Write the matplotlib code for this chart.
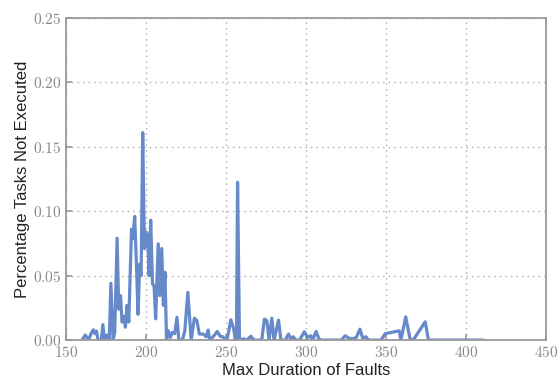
import matplotlib
matplotlib.use("Agg")
import matplotlib.pyplot as plt
from matplotlib.ticker import FuncFormatter

# duracion maxima de fallas (eje x) y porcentaje de tareas no ejecutadas (eje y)
duration = [160, 162, 164, 166, 167, 168, 169, 170, 172, 173,
            174, 175.5, 177, 178, 179.4, 180.4, 181.9, 182.9, 184, 185,
            186, 187.1, 188.1, 189.2, 190.9, 191.7, 192.9, 194, 195, 196,
            196.9, 197.9, 199, 200.2, 201, 201.9, 202.9, 204, 205, 206,
            207.6, 208.6, 209.8, 210.8, 211.8, 212.8, 213.8, 215.2, 216.4, 217.9,
            219.3, 220.5, 222.7, 224.2, 226.1, 228.2, 230.2, 231.8, 233.3, 235.8,
            237.6, 238.8, 239.8, 242.2, 244.5, 246.3, 248, 249.4, 250.9, 253,
            254.8, 255.8, 256.5, 257.2, 258.4, 260.9, 263, 265.5, 267.5, 272.3,
            274, 275.5, 276.9, 278.6, 280, 282.8, 284.3, 287, 289, 290.4,
            292, 293.5, 296, 298.9, 301, 303, 304, 306.3, 308, 309.6,
            322, 324.5, 326.6, 329, 331.4, 333.7, 335.4, 337.5, 338.9, 346.8,
            349.5, 358.2, 359.3, 362.3, 365, 367, 374.5, 376.5, 390, 410]
not_executed = [0, 0.004, 0, 0.006, 0.008, 0.005, 0.007, 0, 0, 0.012,
                0, 0.004, 0, 0.044, 0, 0.006, 0.079, 0.024, 0.0345, 0.014,
                0.0185, 0.010, 0.027, 0.014, 0.086, 0.0786, 0.096, 0.058, 0.020, 0.059,
                0.050, 0.161, 0.071, 0.0837, 0.081, 0.050, 0.093, 0.0436, 0.042, 0.0165,
                0.0747, 0.0345, 0.071, 0.027, 0.0527, 0, 0.0074, 0.002, 0.006, 0.005,
                0.0177, 0, 0, 0.007, 0.037, 0, 0.017, 0.015, 0.0047, 0.0047,
                0.0026, 0.0078, 0, 0.003, 0.0067, 0.003, 0.0026, 0, 0.002, 0.0158,
                0.0085, 0, 0, 0.1224, 0, 0.001, 0, 0.003, 0, 0,
                0.0163, 0.015, 0, 0.017, 0, 0.0155, 0, 0, 0.0047, 0.001,
                0.0026, 0, 0, 0.0065, 0.002, 0.0034, 0, 0.0067, 0.001, 0,
                0, 0.0034, 0.0016, 0.001, 0.002, 0.0085, 0.0016, 0.0026, 0, 0,
                0.005, 0.0072, 0, 0.018, 0.001, 0, 0.0142, 0, 0, 0]

xticks = [150, 200, 250, 300, 350, 400, 450]
yticks = [0.00, 0.05, 0.10, 0.15, 0.20, 0.25]

plt.rcParams['mathtext.fontset'] = 'cm'
gris = '#999999'

fig = plt.figure(figsize=(5.6, 3.8), dpi=100)
ax = fig.add_axes([0.118, 0.105, 0.857, 0.848])

ax.plot(duration, not_executed, color='#6589c9', linewidth=2.3)

ax.set_xlim(150, 450)
ax.set_ylim(0, 0.25)
ax.set_xticks(xticks)
ax.set_yticks(yticks)
ax.xaxis.set_major_formatter(FuncFormatter(lambda v, p: '$%d$' % v))
ax.yaxis.set_major_formatter(FuncFormatter(lambda v, p: '$%.2f$' % v))
ax.tick_params(direction='in', length=4, width=1.2, colors=gris,
               labelcolor='#888888', labelsize=11, top=False, right=False)

for s in ax.spines.values():
    s.set_color(gris)
    s.set_linewidth(1.3)

# rejilla punteada clara, puntos espaciados
ax.grid(True, linestyle=(0, (1, 3)), color='#aaaaaa', linewidth=1.0)
ax.set_axisbelow(True)

ax.set_xlabel('Max Duration of Faults', fontsize=12, family='Liberation Sans', color='#222222', labelpad=2)
ax.set_ylabel('Percentage Tasks Not Executed', fontsize=12, family='Liberation Sans', color='#222222', labelpad=2)

fig.savefig('out.png', dpi=100)
